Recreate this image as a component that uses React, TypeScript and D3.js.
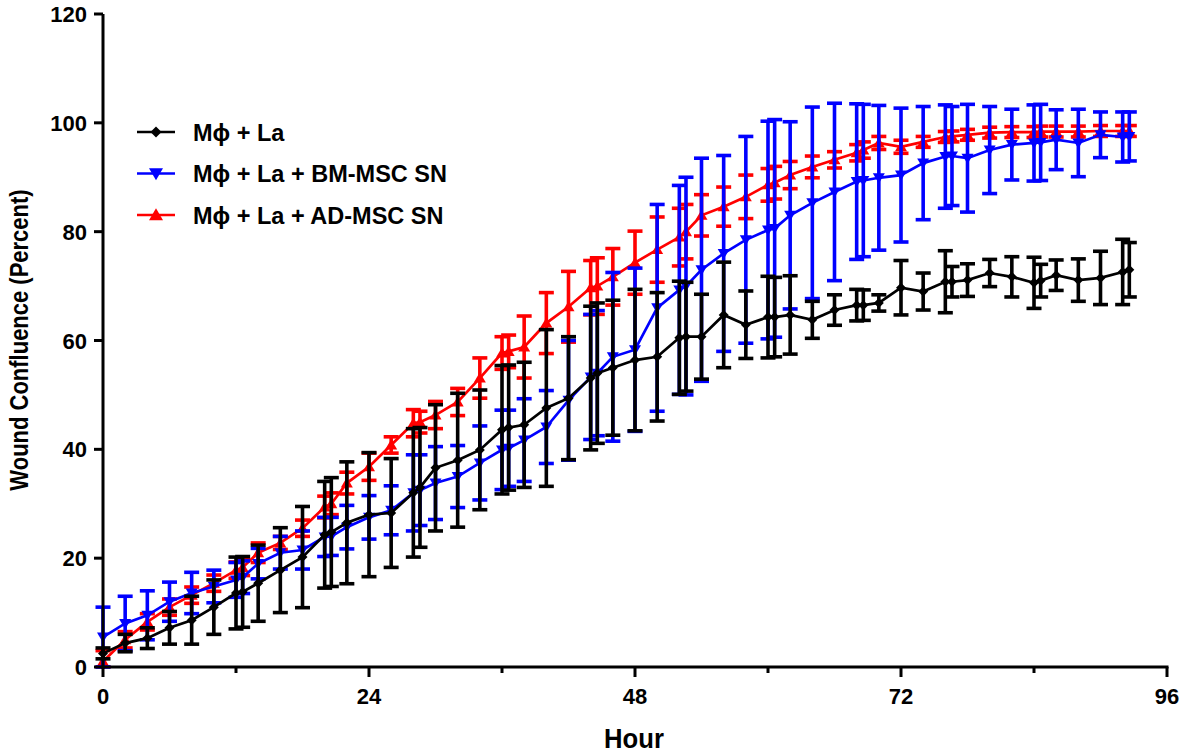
import React from "react";
import * as d3 from "d3";

const hours = [0,2,4,6,8,10,12,12.6,14,16,18,20,20.6,22,24,26,28,28.6,30,32,34,36,36.6,38,40,42,44,44.6,46,48,50,52,52.6,54,56,58,60,60.6,62,64,66,68,68.6,70,72,74,76,76.6,78,80,82,84,84.6,86,88,90,92,92.6];

const laMean = [2.5,4.4,5.3,7.2,8.6,11,13.6,13.8,15.4,17.8,20.2,24.3,24.8,26.5,28,28.3,32,33,36.6,38,39.9,43.6,44,44.5,47.6,49.4,53.1,54,55,56.4,57,60.5,60.7,60.7,64.7,62.9,64.3,64.3,64.7,63.8,65.6,66.5,66.5,66.9,69.7,69,70.8,70.8,71.1,72.4,71.7,70.6,71,72,71.1,71.5,72.6,73];
const laSD = [1,1.6,1.9,3,4.4,5,6.6,6.5,7,7.8,9.3,9.8,10,11.2,11.4,10,11.8,11,11.6,12.3,11,11.8,11.5,11.5,14.4,11.3,13.2,12.9,12.4,13,11.8,10.4,10,7.8,9.7,6.2,7.5,7.3,7.2,3.4,2.8,2.9,2.8,1.5,5,3.4,5.7,2.8,3,2.5,3.7,4.7,3,2.8,3.9,4.9,6,5];

const bmMean = [5.5,8,9.5,12,13.6,14.8,16,16.5,19,21,21.5,23.9,24,25.7,27.5,28.8,32,32.5,33.8,35,37.5,39.9,40.2,41.7,44.1,49,53.3,54,57,58.3,66,69.3,70,73,76,78.5,80.3,80.6,83,85.3,87.3,89.2,89.4,89.9,90.4,92.6,93.8,93.9,93.5,95,96,96.3,96.4,96.9,96.3,97.8,97.4,97.5];
const bmSD = [5.5,5,4.5,3.6,3.8,3,3.2,3,2.8,3,3.5,3.6,3.5,4,4,4.5,7,6.5,6.7,5.7,6.8,7.3,7,7.6,6.7,11,11.5,11.5,15.5,15,19,19.2,20,20.5,18,19,20,20,17.2,17.6,16.3,14.3,14,13.3,12.3,10.4,9.5,9.1,9.9,8,6.5,7,7,5.5,6.2,4.2,4.6,4.5];

const adMean = [1,5,8.3,11,13.2,15.4,17.8,18.3,21,22.8,25.5,29.4,30,33.8,36.8,40.8,44.8,45,46.3,48.7,53.1,57.7,58,58.8,63.2,66.2,69.7,70,71.7,74.3,76.7,79,80,83,84.6,86.4,88.6,89,90.4,91.9,93.2,94.5,95,96.3,95.6,96.5,97.4,97.5,97.8,98.2,98.3,98.3,98.4,98.4,98.4,98.5,98.5,98.5];
const adSD = [2,1.5,1.5,1.5,1.5,1.5,1.5,1.5,1.8,1.2,1.5,2,2,2,2.5,1.5,2.5,2,2.5,2.5,3.7,3,3,5.7,5.6,6.5,5,5.2,5.2,5.8,6,5.3,5,3.8,3.6,4,3,3,2.5,2,1.5,1.5,1.5,1.2,1.2,1,1,1,1,1,1,1,1,1,1,1,1,1];

const xTicks = [0, 24, 48, 72, 96];
const xMinorTicks = [12, 36, 60, 84];
const yTicks = [0, 20, 40, 60, 80, 100, 120];

const seriesNames = ["M\u03d5 + La", "M\u03d5 + La + BM-MSC SN", "M\u03d5 + La + AD-MSC SN"];
const seriesColors = ["#000000", "#0000ff", "#ff0000"];
const seriesShapes = ["diamond", "down", "up"];

const FONT = "'Liberation Sans', Arial, sans-serif";

function markerPath(shape: string, s: number) {
  if (shape === "diamond") return `M0,${-s}L${s},0L0,${s}L${-s},0Z`;
  if (shape === "down") return `M${-s},${-s * 0.75}L${s},${-s * 0.75}L0,${s * 0.95}Z`;
  return `M${-s},${s * 0.75}L${s},${s * 0.75}L0,${-s * 0.95}Z`;
}

export default function App() {
  const x = d3.scaleLinear().domain([0, 96]).range([103, 1167]);
  const y = d3.scaleLinear().domain([0, 120]).range([667, 14]);

  const series = [
    { mean: adMean, sd: adSD, idx: 2 },
    { mean: bmMean, sd: bmSD, idx: 1 },
    { mean: laMean, sd: laSD, idx: 0 },
  ];

  const line = d3.line<number>().x((_, i) => x(hours[i])).y((d) => y(d));
  const cap = 7.5;

  return (
    <svg width={1181} height={755} style={{ position: "absolute", left: 0, top: 0, background: "#fff" }} fontFamily={FONT}>
      {series.map((s) => {
        const color = seriesColors[s.idx];
        const size = s.idx === 0 ? 5 : 6;
        return (
          <g key={s.idx}>
            {s.mean.map((m, i) => {
              const cx = x(hours[i]);
              const top = y(m + s.sd[i]);
              const bot = y(Math.max(0, m - s.sd[i]));
              return (
                <g key={i} stroke={color} strokeWidth={3.6}>
                  <line x1={cx} x2={cx} y1={top} y2={bot} />
                  <line x1={cx - cap} x2={cx + cap} y1={top} y2={top} />
                  <line x1={cx - cap} x2={cx + cap} y1={bot} y2={bot} />
                </g>
              );
            })}
            <path d={line(s.mean) || ""} fill="none" stroke={color} strokeWidth={2.7} />
            {s.mean.map((m, i) => (
              <path key={i} d={markerPath(seriesShapes[s.idx], size)} transform={`translate(${x(hours[i])},${y(m)})`} fill={color} />
            ))}
          </g>
        );
      })}

      {/* axes */}
      <line x1={103} x2={103} y1={y(120)} y2={y(0) + 1.5} stroke="#000" strokeWidth={3} />
      <line x1={101.5} x2={x(96) + 1.5} y1={y(0)} y2={y(0)} stroke="#000" strokeWidth={3} />
      {yTicks.map((t) => (
        <g key={t}>
          <line x1={94} x2={103} y1={y(t)} y2={y(t)} stroke="#000" strokeWidth={3} />
          <text x={87} y={y(t) + 8} textAnchor="end" fontSize={22} fontWeight="bold">{t}</text>
        </g>
      ))}
      {xTicks.map((t) => (
        <g key={t}>
          <line x1={x(t)} x2={x(t)} y1={y(0)} y2={y(0) + 10} stroke="#000" strokeWidth={3} />
          <text x={x(t)} y={704} textAnchor="middle" fontSize={22} fontWeight="bold">{t}</text>
        </g>
      ))}
      {xMinorTicks.map((t) => (
        <line key={t} x1={x(t)} x2={x(t)} y1={y(0)} y2={y(0) + 6} stroke="#000" strokeWidth={3} />
      ))}

      <text transform="translate(634,748) scale(0.95,1.05)" textAnchor="middle" fontSize={27} fontWeight="bold">Hour</text>
      <text transform="translate(28,340) rotate(-90) scale(0.88,1)" textAnchor="middle" fontSize={25} fontWeight="bold">Wound Confluence (Percent)</text>

      {/* legend */}
      {[0, 1, 2].map((k) => {
        const ly = 132 + k * 41.5;
        return (
          <g key={k}>
            <line x1={137} x2={175} y1={ly} y2={ly} stroke={seriesColors[k]} strokeWidth={2.7} />
            <path d={markerPath(seriesShapes[k], k === 0 ? 5.5 : 7)} transform={`translate(156,${ly})`} fill={seriesColors[k]} />
            <text x={193} y={ly + 8.5} fontSize={23.5} fontWeight="bold">{seriesNames[k]}</text>
          </g>
        );
      })}
    </svg>
  );
}
